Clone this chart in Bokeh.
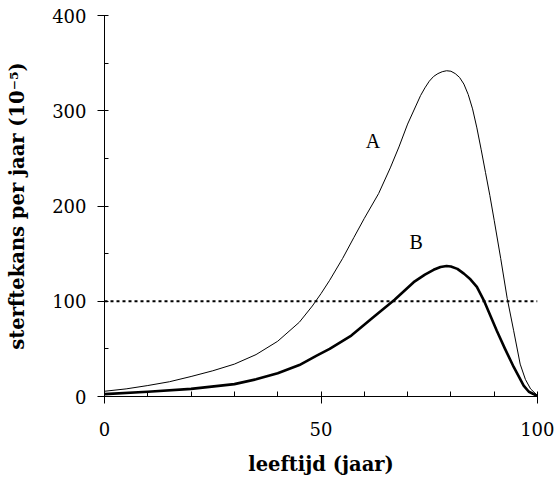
from bokeh.plotting import figure
from bokeh.models import FixedTicker, Span, Range1d, ColumnDataSource
from bokeh.core.properties import value
from bokeh.embed import file_html
from bokeh.resources import INLINE

# Curve A (thin)
age_a = [0, 5, 10, 15, 20, 25, 30, 35, 40, 45, 48, 50, 52, 55, 57.6, 60, 63.3, 66, 68, 70,
         72, 73, 74, 75, 76, 77, 78, 79, 80, 81, 82, 83, 84, 85, 86, 87, 88, 89, 90,
         91.5, 93, 94.5, 96, 97.2, 98.4, 100]
rate_a = [5.5, 8, 11.5, 15.5, 21, 27, 34, 44, 58, 78, 95, 108, 122, 145, 167, 187, 213, 240,
          262, 286, 306, 316, 324, 331, 336, 339, 341, 342, 341.5, 339, 335, 328, 317, 302,
          282, 259, 235, 211, 185, 145, 103, 69, 34, 18, 8, 1]
# Curve B (thick)
age_b = [0, 10, 20, 30, 35, 40, 45, 49, 52, 57, 62, 67, 71.4, 74, 76, 77.6, 79, 80, 81.5,
         83, 84.5, 86, 87.6, 89, 90.6, 92.5, 94.5, 96.8, 98, 100]
rate_b = [2.5, 5, 8, 13, 18, 24.5, 33, 43, 50, 64, 83, 101.5, 120, 128, 133, 136, 137, 136.5,
          134, 129, 123, 115, 101, 86, 69, 50, 31, 11.5, 5, 0.5]
threshold = 100

labels = ["A", "B"]
label_x = [62, 72]
label_y = [268, 162]

x_ticks = [0, 50, 100]
x_minor = [10, 20, 30, 40, 60, 70, 80, 90]
y_ticks = [0, 100, 200, 300, 400]
y_minor = [50, 150, 250, 350]

p = figure(width=554, height=478, output_backend="svg", toolbar_location=None,
           x_range=Range1d(0, 100), y_range=Range1d(0, 400),
           min_border_left=104, min_border_right=17, min_border_top=15,
           min_border_bottom=82)
p.outline_line_color = None
p.grid.visible = False
p.background_fill_color = "white"
p.border_fill_color = "white"

p.line(age_a, rate_a, line_color="black", line_width=1)
p.line(age_b, rate_b, line_color="black", line_width=2.6, line_join="round")
p.add_layout(Span(location=threshold, dimension="width", line_color="black",
                  line_width=2, line_dash="3 3"))

src = ColumnDataSource(dict(x=label_x, y=label_y, t=labels))
p.text(x="x", y="y", text="t", source=src, text_font=value("Liberation Serif"),
       text_font_size="20px", text_align="center", text_baseline="middle",
       text_color="black")

xa = p.xaxis[0]
xa.ticker = FixedTicker(ticks=x_ticks, minor_ticks=x_minor)
xa.axis_label = "leeftijd (jaar)"
ya = p.yaxis[0]
ya.ticker = FixedTicker(ticks=y_ticks, minor_ticks=y_minor)
ya.axis_label = "sterftekans per jaar (10⁻⁵)"

for ax in (xa, ya):
    ax.axis_line_color = "black"
    ax.major_tick_line_color = "black"
    ax.minor_tick_line_color = "black"
    ax.major_label_text_font = "DejaVu Serif"
    ax.major_label_text_font_size = "18px"
    ax.major_label_text_color = "black"
    ax.axis_label_text_font = "DejaVu Serif"
    ax.axis_label_text_font_size = "19.5px"
    ax.axis_label_text_font_style = "bold"
    ax.axis_label_text_color = "black"

xa.major_tick_in = 5
xa.major_tick_out = 7
xa.minor_tick_in = 5
xa.minor_tick_out = 0
xa.major_label_standoff = 18
xa.axis_label_standoff = 14

ya.major_tick_in = 4
ya.major_tick_out = 7
ya.minor_tick_in = 4
ya.minor_tick_out = 0
ya.major_label_standoff = 11
ya.axis_label_standoff = 20

open("out.html", "w").write(file_html(p, INLINE))
